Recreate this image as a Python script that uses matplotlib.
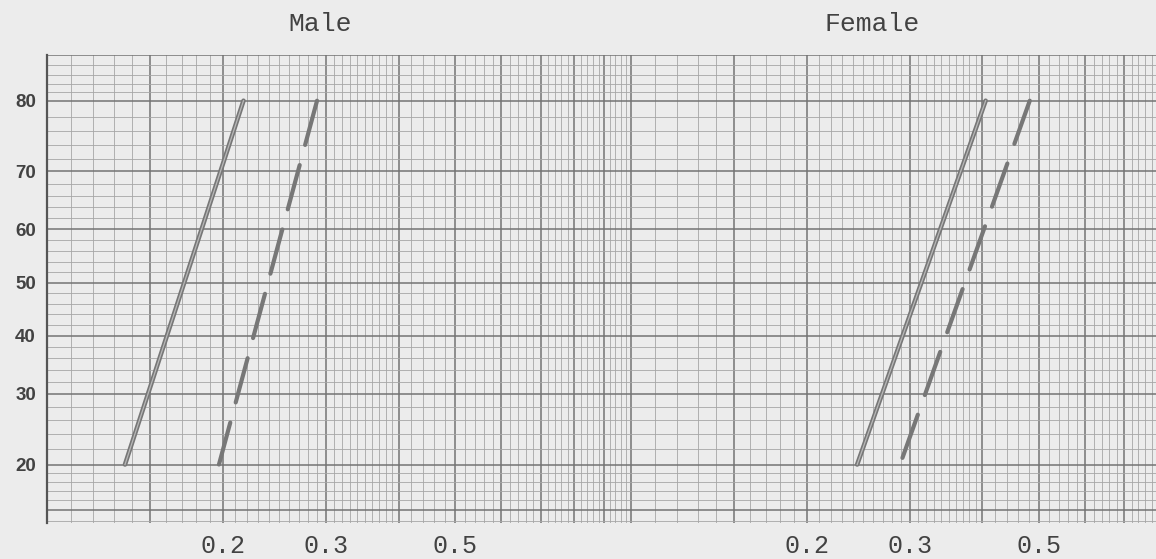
import numpy as np
import matplotlib
matplotlib.use('Agg')
import matplotlib.pyplot as plt

# Values (x: log scale, y: cumulative %)
pct = [20, 80]
male_solid = [0.136, 0.217]
male_dashed = [0.197, 0.290]
female_solid = [0.244, 0.405]
female_dashed = [0.289, 0.482]

ytick_pct = [20, 30, 40, 50, 60, 70, 80]
xtick_labels = ['0.2', '0.3', '0.5']
xtick_vals = [0.2, 0.3, 0.5]

paper = '#ececec'
major_col = '#737373'
minor_col = '#a6a6a6'
line_col = '#777777'
text_col = '#424242'

fig = plt.figure(figsize=(11.56, 5.59), dpi=100, facecolor=paper)

W, H = 1156, 559
ax_m = fig.add_axes([47 / W, (H - 523) / H, 584 / W, 468 / H])
ax_f = fig.add_axes([631 / W, (H - 523) / H, 525 / W, 468 / H])

# graph paper rulings
x_major = [0.1, 0.15, 0.2, 0.3, 0.4, 0.5, 0.6, 0.7, 0.8, 0.9, 1.0]
x_minor = np.round(np.concatenate([np.arange(0.10, 0.40, 0.01),
                                   np.arange(0.40, 1.0001, 0.02)]), 3)
y_major = [0.15] + [p / 100 for p in ytick_pct] + [0.85]
y_minor = np.round(np.concatenate([np.arange(0.14, 0.20, 0.01),
                                   np.arange(0.20, 0.80, 0.02),
                                   np.arange(0.80, 0.851, 0.01)]), 3)

for ax, xmax in [(ax_m, 1.0), (ax_f, 0.793)]:
    ax.set_facecolor(paper)
    ax.set_xscale('log')
    ax.set_yscale('logit')
    ax.set_xticks(x_minor, minor=True)
    ax.set_yticks(y_minor, minor=True)
    ax.set_xticks(x_major)
    ax.set_xticklabels([xtick_labels[xtick_vals.index(v)] if v in xtick_vals else ''
                        for v in x_major])
    ax.set_yticks(y_major)
    ax.set_yticklabels([''] + [str(p) for p in ytick_pct] + [''])
    # limits after the ticks, so the ticks do not widen the view
    ax.set_xlim(0.1, xmax)
    ax.set_ylim(0.138, 0.85)
    ax.tick_params(which='both', length=0)
    ax.tick_params(which='minor', labelbottom=False, labelleft=False)
    ax.tick_params(axis='x', pad=8, labelcolor=text_col)
    for lab in ax.get_xticklabels():
        lab.set_family('Liberation Mono')
        lab.set_fontsize(18)
    ax.grid(which='minor', color=minor_col, lw=0.6)
    ax.grid(which='major', color=major_col, lw=1.1)
    for s in ax.spines.values():
        s.set_visible(False)

# left edge of the sheet and the percent labels
ax_m.spines['left'].set_visible(True)
ax_m.spines['left'].set_color('#555555')
ax_m.spines['left'].set_linewidth(1.6)
ax_m.tick_params(axis='y', pad=8, labelcolor=text_col)
for lab in ax_m.get_yticklabels():
    lab.set_family('Liberation Sans')
    lab.set_fontweight('bold')
    lab.set_fontsize(13.5)
ax_f.tick_params(axis='y', labelleft=False)

y = np.array(pct) / 100
dash = (0, (11, 5))
for ax, solid, dashed in [(ax_m, male_solid, male_dashed),
                          (ax_f, female_solid, female_dashed)]:
    ax.plot(solid, y, color=line_col, lw=3.3, solid_capstyle='round')
    ax.plot(solid, y, color='#b8b8b8', lw=0.9)
    ax.plot(dashed[::-1], y[::-1], color=line_col, lw=3.0, linestyle=dash,
            dash_capstyle='round')

# typed headings
fig.text(320 / W, 1 - 24 / H, 'Male', ha='center', va='center',
         family='Liberation Mono', fontsize=19, color=text_col)
fig.text(872 / W, 1 - 24 / H, 'Female', ha='center', va='center',
         family='Liberation Mono', fontsize=19, color=text_col)

fig.savefig('out.png', dpi=100, facecolor=paper)
